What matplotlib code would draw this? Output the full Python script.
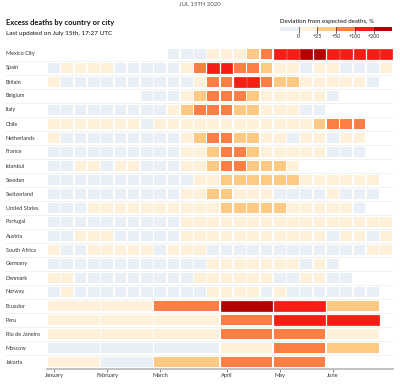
import matplotlib
matplotlib.use("Agg")
import matplotlib.pyplot as plt
from matplotlib.patches import Rectangle
from matplotlib.lines import Line2D

plt.rcParams['font.family'] = ['Lato', 'DejaVu Sans']

# ---------------- data ----------------
# category codes: 0 = below 0, 1 = 0..+25, 2 = +25..+50, 3 = +50..+100, 4 = +100..+200, 5 = above +200
weekly_names = ["Mexico City", "Spain", "Britain", "Belgium", "Italy", "Chile", "Netherlands",
                "France", "Istanbul", "Sweden", "Switzerland", "United States", "Portugal",
                "Austria", "South Africa", "Germany", "Denmark", "Norway"]
weekly_start = [9, 0, 0, 7, 0, 0, 0, 0, 0, 0, 0, 0, 0, 0, 0, 0, 0, 0]
weekly_codes = [
    "00011123445544444",
    "01111000001344332110110001",
    "1000000000013344322111110",
    "000123332111110",
    "000000000123332211100",
    "111111101111111111112333",
    "100000000012332211011011",
    "000000000011233211111000",
    "0011011000112332221",
    "0000000000011222222111111",
    "0000000000112211100001000",
    "000111111111122222111110",
    "00000000001111111111111111",
    "00111000001111111111101101",
    "10011111011100000000000011",
    "0000000000001111111010",
    "11000000000111111001100",
    "0100000000001111010000000",
]
monthly_names = ["Ecuador", "Peru", "Rio de Janeiro", "Moscow", "Jakarta"]
monthly_codes = ["113542", "111344", "111331", "000132", "10233"]
month_weeks = [4, 4, 5, 4, 4, 4]          # weeks spanned by Jan..Jun
month_labels = ["January", "February", "March", "April", "May", "June"]
legend_labels = ["0", "+25", "+50", "+100", "+200"]
n_weeks = 26

colors = ["#e9eff6", "#fff0d9", "#fec983", "#fd7f46", "#f41e15", "#b50000"]
edge = {4: "#e41a12", 5: "#a80000"}

# ---------------- figure ----------------
W, H = 400, 384
fig = plt.figure(figsize=(W / 100, H / 100), dpi=100)

def fx(px):
    return px / W

def fy(py):
    return 1 - py / H

top_px, bot_px = 47.0, 368.5
left_px, right_px = 47.3, 392.6
ax = fig.add_axes([fx(left_px), fy(bot_px), fx(right_px - left_px), (bot_px - top_px) / H])
ax.set_xlim(0, n_weeks)
ax.set_ylim((bot_px - top_px) / 14 - 0.5, -0.5)
for s in ["top", "right", "left"]:
    ax.spines[s].set_visible(False)
ax.spines["bottom"].set_color("#bdbdbd")
ax.spines["bottom"].set_linewidth(1.3)
ax.set_yticks([])

cell_h = 0.72
gap = 0.06

def cell(x0, w, row, code):
    c = colors[code]
    ec = edge.get(code, "none")
    ax.add_patch(Rectangle((x0 + gap, row - cell_h / 2), w - 2 * gap, cell_h,
                           facecolor=c, edgecolor=ec, linewidth=0.5 if ec != "none" else 0))

names = weekly_names + monthly_names
for r, (st, codes) in enumerate(zip(weekly_start, weekly_codes)):
    for i, ch in enumerate(codes):
        cell(st + i, 1, r, int(ch))

month_start = [sum(month_weeks[:i]) for i in range(len(month_weeks))]
for j, codes in enumerate(monthly_codes):
    r = len(weekly_names) + j
    for i, ch in enumerate(codes):
        cell(month_start[i], month_weeks[i], r, int(ch))

# row separators and labels
for r, name in enumerate(names):
    y_px = 54 + 14 * r
    fig.text(fx(6), fy(y_px), name, fontsize=4.0, color="#333333", va="center", ha="left")
    if r < len(names) - 1:
        sep = y_px + 7
        fig.add_artist(Line2D([fx(5), fx(393)], [fy(sep), fy(sep)], color="#f0f0f0", lw=0.6))

ax.set_xticks([m + 0.5 for m in month_start])
ax.set_xticklabels(month_labels, fontsize=4.1, color="#333333")
ax.tick_params(axis="x", length=2, width=0.5, color="#555555", pad=1.5)

# titles
fig.text(0.5, fy(5), "JUL 15TH 2020", fontsize=4.3, color="#555555", ha="center", va="center")
fig.text(fx(6), fy(22), "Excess deaths by country or city", fontsize=5.4, fontweight="bold",
         color="#111111", ha="left", va="center")
fig.text(fx(6), fy(33), "Last updated on July 15th, 17:27 UTC", fontsize=4.6,
         color="#111111", ha="left", va="center")

# legend
fig.text(fx(280), fy(21.5), "Deviation from expected deaths, %", fontsize=4.4, color="#111111",
         ha="left", va="center")
lx0, seg = 280.0, 18.7
for i, c in enumerate(colors):
    fig.add_artist(Rectangle((fx(lx0 + i * seg), fy(30.8)), fx(seg), 3.6 / H,
                             facecolor=c, edgecolor="none", transform=fig.transFigure))
for i, lab in enumerate(legend_labels):
    xp = lx0 + (i + 1) * seg
    fig.add_artist(Line2D([fx(xp), fx(xp)], [fy(26.5), fy(32.5)], color="#333333", lw=0.5))
    fig.text(fx(xp), fy(36.5), lab, fontsize=3.9, color="#333333", ha="center", va="center")

fig.savefig("out.png", dpi=100)
